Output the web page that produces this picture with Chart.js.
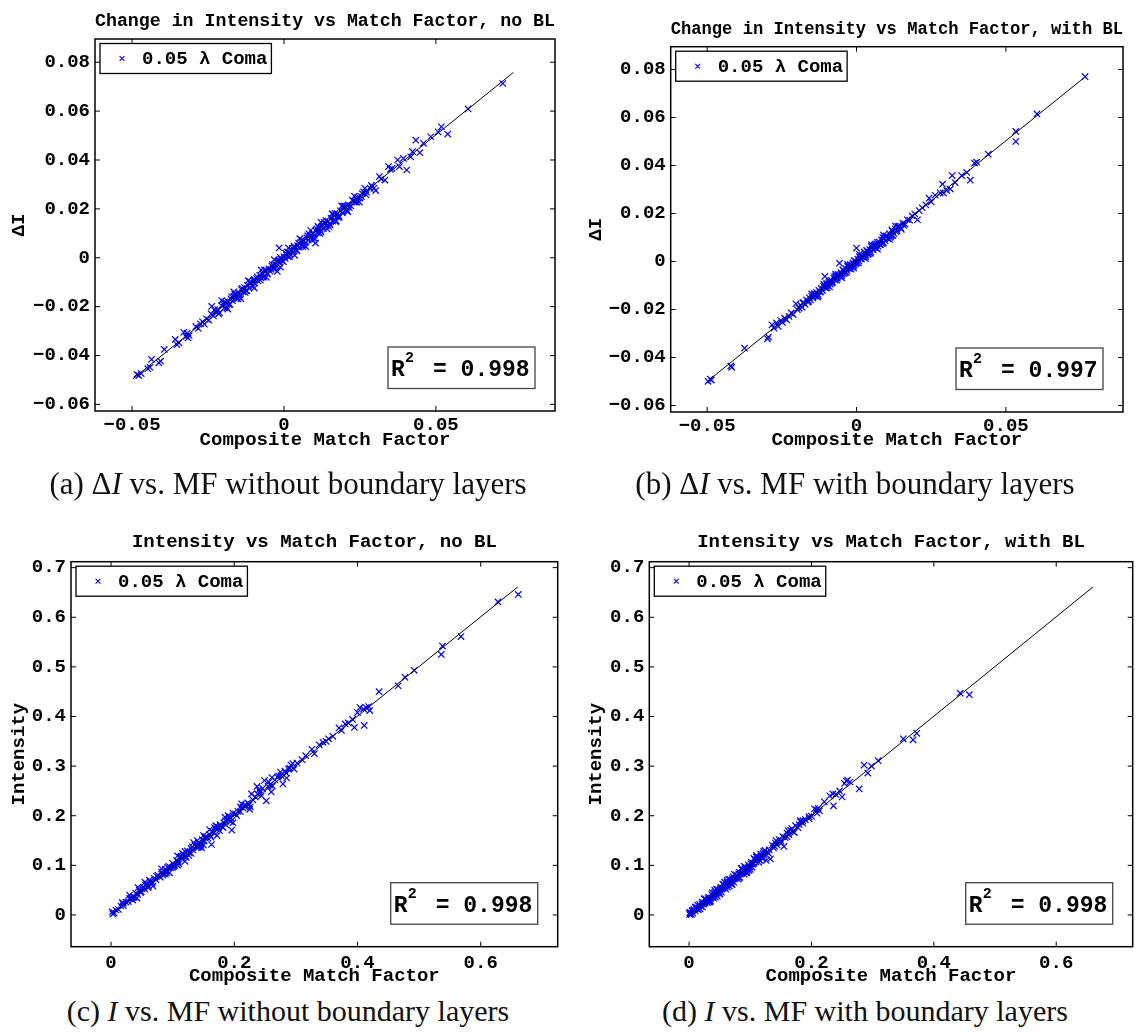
<!DOCTYPE html>
<html>
<head>
<meta charset="utf-8">
<script src="https://cdn.jsdelivr.net/npm/chart.js@4.4.1/dist/chart.umd.min.js"></script>
<style>
  html, body { margin: 0; padding: 0; background: #fff; }
  body { width: 1146px; height: 1034px; position: relative; overflow: hidden; }
  canvas { position: absolute; }
  .cap {
    position: absolute;
    font-family: "Liberation Serif", "Times New Roman", serif;
    font-size: 30px;
    line-height: 30px;
    color: #111;
    white-space: nowrap;
    transform: translateX(-50%);
  }
  .cap.top { font-size: 31px; line-height: 31px; }
</style>
</head>
<body>
<canvas id="panelA" width="573" height="470" style="left:0px;top:0px"></canvas>
<canvas id="panelB" width="573" height="470" style="left:573px;top:0px"></canvas>
<canvas id="panelC" width="573" height="470" style="left:0px;top:520px"></canvas>
<canvas id="panelD" width="573" height="470" style="left:573px;top:520px"></canvas>

<div class="cap top" style="left:288px;top:468px">(a) Δ<i>I</i> vs. MF without boundary layers</div>
<div class="cap top" style="left:855px;top:468px">(b) Δ<i>I</i> vs. MF with boundary layers</div>
<div class="cap" style="left:288px;top:996px">(c) <i>I</i> vs. MF without boundary layers</div>
<div class="cap" style="left:865px;top:996px">(d) <i>I</i> vs. MF with boundary layers</div>

<script>
// ---------- series ----------
const seriesLabel = '0.05 λ Coma';
const xAxisTitle = 'Composite Match Factor';

const titles = [
  'Change in Intensity vs Match Factor, no BL',
  'Change in Intensity vs Match Factor, with BL',
  'Intensity vs Match Factor, no BL',
  'Intensity vs Match Factor, with BL'
];
const yAxisTitles = ['ΔI', 'ΔI', 'Intensity', 'Intensity'];
const rSquared = [0.998, 0.997, 0.998, 0.998];

// tick values and labels
const deltaXTicks = [-0.05, 0, 0.05];
const deltaXLabels = ['−0.05', '0', '0.05'];
const deltaYTicks = [-0.06, -0.04, -0.02, 0, 0.02, 0.04, 0.06, 0.08];
const deltaYLabels = ['−0.06', '−0.04', '−0.02', '0', '0.02', '0.04', '0.06', '0.08'];
const intensityXTicks = [0, 0.2, 0.4, 0.6];
const intensityXLabels = ['0', '0.2', '0.4', '0.6'];
const intensityYTicks = [0, 0.1, 0.2, 0.3, 0.4, 0.5, 0.6, 0.7];
const intensityYLabels = ['0', '0.1', '0.2', '0.3', '0.4', '0.5', '0.6', '0.7'];

// axis limits
const deltaXRange = [-0.0622, 0.0892];
const deltaYRange = [-0.0627, 0.0895];
const intensityXRange = [-0.065, 0.725];
const intensityYRange = [-0.064, 0.712];

// [match factor, change in intensity] without boundary layers
const deltaNoBL = [
  [-0.0484,-0.0477],[-0.0478,-0.0482],[-0.0470,-0.0474],[-0.0448,-0.0454],[-0.0441,-0.0448],
  [-0.0436,-0.0416],[-0.0412,-0.0430],[-0.0406,-0.0423],[-0.0394,-0.0375],[-0.0358,-0.0334],
  [-0.0352,-0.0356],[-0.0346,-0.0348],[-0.0330,-0.0305],[-0.0322,-0.0322],[-0.0319,-0.0308],
  [-0.0316,-0.0328],[-0.0312,-0.0318],[-0.0290,-0.0282],[-0.0282,-0.0289],[-0.0275,-0.0270],
  [-0.0268,-0.0262],[-0.0262,-0.0272],[-0.0255,-0.0250],[-0.0248,-0.0255],[-0.0240,-0.0230],
  [-0.0238,-0.0199],[-0.0232,-0.0238],[-0.0228,-0.0212],[-0.0225,-0.0220],[-0.0218,-0.0212],
  [-0.0215,-0.0230],[-0.0212,-0.0225],[-0.0205,-0.0196],[-0.0205,-0.0175],[-0.0200,-0.0190],
  [-0.0196,-0.0205],[-0.0195,-0.0180],[-0.0190,-0.0186],[-0.0188,-0.0205],[-0.0185,-0.0178],
  [-0.0185,-0.0210],[-0.0180,-0.0192],[-0.0178,-0.0190],[-0.0175,-0.0168],[-0.0172,-0.0160],
  [-0.0170,-0.0176],[-0.0165,-0.0158],[-0.0165,-0.0140],[-0.0162,-0.0148],[-0.0160,-0.0150],
  [-0.0156,-0.0165],[-0.0152,-0.0168],[-0.0150,-0.0145],[-0.0148,-0.0160],[-0.0145,-0.0152],
  [-0.0142,-0.0168],[-0.0140,-0.0130],[-0.0138,-0.0125],[-0.0135,-0.0140],[-0.0130,-0.0122],
  [-0.0128,-0.0142],[-0.0126,-0.0135],[-0.0122,-0.0135],[-0.0120,-0.0112],[-0.0118,-0.0094],
  [-0.0115,-0.0124],[-0.0112,-0.0098],[-0.0110,-0.0103],[-0.0105,-0.0112],[-0.0102,-0.0118],
  [-0.0100,-0.0092],[-0.0098,-0.0088],[-0.0098,-0.0124],[-0.0096,-0.0104],[-0.0090,-0.0085],
  [-0.0088,-0.0078],[-0.0086,-0.0095],[-0.0080,-0.0072],[-0.0078,-0.0092],[-0.0076,-0.0082],
  [-0.0075,-0.0050],[-0.0070,-0.0066],[-0.0068,-0.0080],[-0.0066,-0.0075],[-0.0064,-0.0050],
  [-0.0060,-0.0052],[-0.0058,-0.0080],[-0.0056,-0.0064],[-0.0054,-0.0068],[-0.0050,-0.0045],
  [-0.0046,-0.0055],[-0.0042,-0.0048],[-0.0040,-0.0034],[-0.0038,-0.0028],[-0.0036,-0.0044],
  [-0.0032,-0.0008],[-0.0030,-0.0026],[-0.0028,-0.0042],[-0.0026,-0.0033],[-0.0022,-0.0056],
  [-0.0020,-0.0015],[-0.0018,-0.0010],[-0.0016,0.0040],[-0.0014,-0.0022],[-0.0012,0.0002],
  [-0.0012,-0.0038],[-0.0010,-0.0006],[-0.0006,-0.0012],[-0.0002,-0.0016],[0.0000,0.0004],
  [0.0004,-0.0003],[0.0006,0.0018],[0.0008,0.0012],[0.0010,0.0024],[0.0012,0.0006],
  [0.0015,0.0040],[0.0016,0.0022],[0.0018,0.0004],[0.0020,0.0014],[0.0025,0.0030],
  [0.0028,0.0038],[0.0030,0.0024],[0.0033,0.0048],[0.0035,0.0042],[0.0035,0.0010],
  [0.0040,0.0033],[0.0043,0.0028],[0.0045,0.0050],[0.0048,0.0060],[0.0050,0.0043],
  [0.0052,0.0078],[0.0055,0.0062],[0.0058,0.0072],[0.0060,0.0052],[0.0062,0.0045],
  [0.0065,0.0070],[0.0068,0.0050],[0.0070,0.0062],[0.0072,0.0045],[0.0075,0.0082],
  [0.0078,0.0090],[0.0080,0.0072],[0.0082,0.0098],[0.0085,0.0090],[0.0088,0.0112],
  [0.0090,0.0083],[0.0092,0.0072],[0.0095,0.0100],[0.0098,0.0080],[0.0100,0.0092],
  [0.0102,0.0078],[0.0104,0.0060],[0.0105,0.0110],[0.0108,0.0118],[0.0110,0.0102],
  [0.0112,0.0128],[0.0115,0.0122],[0.0118,0.0100],[0.0120,0.0112],[0.0122,0.0106],
  [0.0122,0.0145],[0.0125,0.0130],[0.0130,0.0120],[0.0132,0.0145],[0.0135,0.0142],
  [0.0138,0.0152],[0.0140,0.0130],[0.0142,0.0118],[0.0145,0.0150],[0.0148,0.0128],
  [0.0150,0.0140],[0.0152,0.0134],[0.0155,0.0162],[0.0158,0.0180],[0.0160,0.0150],
  [0.0162,0.0178],[0.0165,0.0172],[0.0168,0.0182],[0.0170,0.0148],[0.0172,0.0150],
  [0.0175,0.0180],[0.0178,0.0165],[0.0180,0.0172],[0.0182,0.0166],[0.0186,0.0192],
  [0.0190,0.0212],[0.0192,0.0184],[0.0195,0.0210],[0.0198,0.0204],[0.0200,0.0212],
  [0.0205,0.0196],[0.0208,0.0192],[0.0210,0.0188],[0.0212,0.0216],[0.0215,0.0205],
  [0.0220,0.0212],[0.0225,0.0236],[0.0228,0.0232],[0.0232,0.0252],[0.0235,0.0228],
  [0.0238,0.0240],[0.0240,0.0228],[0.0242,0.0246],[0.0248,0.0228],[0.0250,0.0244],
  [0.0255,0.0250],[0.0258,0.0262],[0.0262,0.0270],[0.0266,0.0284],[0.0270,0.0258],
  [0.0272,0.0268],[0.0284,0.0284],[0.0288,0.0296],[0.0291,0.0290],[0.0296,0.0284],
  [0.0302,0.0275],[0.0314,0.0332],[0.0320,0.0322],[0.0332,0.0318],[0.0344,0.0373],
  [0.0350,0.0362],[0.0356,0.0366],[0.0374,0.0400],[0.0380,0.0373],[0.0393,0.0407],
  [0.0404,0.0359],[0.0417,0.0413],[0.0423,0.0434],[0.0434,0.0481],[0.0447,0.0430],
  [0.0459,0.0468],[0.0483,0.0495],[0.0507,0.0515],[0.0518,0.0536],[0.0539,0.0506],
  [0.0606,0.0609],[0.0720,0.0713]
];

// [match factor, change in intensity] with boundary layers
const deltaBL = [
  [-0.0497,-0.0499],[-0.0490,-0.0490],[-0.0486,-0.0494],[-0.0421,-0.0435],[-0.0418,-0.0441],
  [-0.0375,-0.0361],[-0.0298,-0.0322],[-0.0295,-0.0315],[-0.0283,-0.0264],[-0.0276,-0.0278],
  [-0.0268,-0.0256],[-0.0262,-0.0270],[-0.0254,-0.0246],[-0.0248,-0.0254],[-0.0241,-0.0236],
  [-0.0234,-0.0243],[-0.0226,-0.0229],[-0.0219,-0.0214],[-0.0212,-0.0221],[-0.0203,-0.0176],
  [-0.0198,-0.0201],[-0.0192,-0.0195],[-0.0187,-0.0182],[-0.0182,-0.0191],[-0.0180,-0.0172],
  [-0.0177,-0.0171],[-0.0172,-0.0179],[-0.0167,-0.0160],[-0.0163,-0.0169],[-0.0160,-0.0166],
  [-0.0158,-0.0151],[-0.0154,-0.0160],[-0.0150,-0.0145],[-0.0150,-0.0135],[-0.0146,-0.0152],
  [-0.0142,-0.0137],[-0.0140,-0.0134],[-0.0138,-0.0144],[-0.0134,-0.0128],[-0.0130,-0.0136],
  [-0.0130,-0.0148],[-0.0128,-0.0142],[-0.0126,-0.0120],[-0.0122,-0.0128],[-0.0120,-0.0126],
  [-0.0118,-0.0112],[-0.0114,-0.0121],[-0.0110,-0.0104],[-0.0110,-0.0094],[-0.0108,-0.0098],
  [-0.0106,-0.0062],[-0.0104,-0.0110],[-0.0100,-0.0095],[-0.0100,-0.0090],[-0.0098,-0.0110],
  [-0.0096,-0.0102],[-0.0092,-0.0087],[-0.0090,-0.0080],[-0.0090,-0.0106],[-0.0088,-0.0094],
  [-0.0084,-0.0079],[-0.0082,-0.0090],[-0.0080,-0.0086],[-0.0076,-0.0070],[-0.0074,-0.0064],
  [-0.0072,-0.0078],[-0.0070,-0.0060],[-0.0070,-0.0052],[-0.0068,-0.0063],[-0.0066,-0.0078],
  [-0.0064,-0.0070],[-0.0062,-0.0054],[-0.0060,-0.0055],[-0.0057,-0.0007],[-0.0056,-0.0062],
  [-0.0052,-0.0046],[-0.0050,-0.0060],[-0.0050,-0.0068],[-0.0048,-0.0054],[-0.0046,-0.0034],
  [-0.0044,-0.0038],[-0.0042,-0.0050],[-0.0040,-0.0046],[-0.0036,-0.0030],[-0.0034,-0.0046],
  [-0.0032,-0.0038],[-0.0030,-0.0020],[-0.0030,-0.0012],[-0.0028,-0.0022],[-0.0024,-0.0030],
  [-0.0022,-0.0014],[-0.0020,-0.0014],[-0.0018,-0.0032],[-0.0016,-0.0022],[-0.0012,-0.0006],
  [-0.0010,-0.0020],[-0.0010,-0.0028],[-0.0008,0.0004],[-0.0008,-0.0014],[-0.0004,0.0002],
  [-0.0002,-0.0010],[0.0000,-0.0006],[0.0000,0.0056],[0.0004,0.0010],[0.0006,-0.0006],
  [0.0008,0.0002],[0.0010,0.0020],[0.0010,0.0030],[0.0012,0.0018],[0.0016,0.0010],
  [0.0018,0.0026],[0.0020,0.0026],[0.0024,0.0017],[0.0026,0.0040],[0.0028,0.0034],
  [0.0030,0.0020],[0.0030,0.0012],[0.0032,0.0025],[0.0034,0.0046],[0.0036,0.0042],
  [0.0038,0.0030],[0.0040,0.0033],[0.0044,0.0050],[0.0046,0.0034],[0.0048,0.0040],
  [0.0050,0.0062],[0.0050,0.0070],[0.0052,0.0058],[0.0056,0.0048],[0.0058,0.0066],
  [0.0060,0.0066],[0.0062,0.0072],[0.0064,0.0056],[0.0068,0.0074],[0.0070,0.0080],
  [0.0070,0.0052],[0.0072,0.0063],[0.0076,0.0082],[0.0078,0.0070],[0.0080,0.0071],
  [0.0084,0.0090],[0.0086,0.0074],[0.0088,0.0079],[0.0088,0.0100],[0.0090,0.0078],
  [0.0090,0.0110],[0.0092,0.0098],[0.0096,0.0086],[0.0098,0.0106],[0.0100,0.0106],
  [0.0105,0.0095],[0.0110,0.0116],[0.0110,0.0092],[0.0112,0.0100],[0.0115,0.0105],
  [0.0118,0.0110],[0.0118,0.0132],[0.0120,0.0126],[0.0122,0.0108],[0.0125,0.0117],
  [0.0130,0.0136],[0.0130,0.0148],[0.0132,0.0124],[0.0136,0.0128],[0.0138,0.0146],
  [0.0142,0.0148],[0.0148,0.0140],[0.0150,0.0134],[0.0155,0.0160],[0.0158,0.0150],
  [0.0162,0.0156],[0.0170,0.0174],[0.0178,0.0172],[0.0186,0.0190],[0.0195,0.0198],
  [0.0204,0.0174],[0.0210,0.0212],[0.0220,0.0224],[0.0232,0.0236],[0.0243,0.0264],
  [0.0250,0.0248],[0.0263,0.0276],[0.0280,0.0286],[0.0288,0.0322],[0.0291,0.0285],
  [0.0302,0.0296],[0.0314,0.0302],[0.0320,0.0358],[0.0330,0.0329],[0.0352,0.0358],
  [0.0369,0.0371],[0.0381,0.0339],[0.0395,0.0410],[0.0402,0.0414],[0.0441,0.0447],
  [0.0533,0.0542],[0.0533,0.0500],[0.0604,0.0615],[0.0765,0.0770]
];

// [match factor, intensity] without boundary layers
const intensityNoBL = [
  [0.661,0.646],[0.628,0.631],[0.568,0.561],[0.538,0.542],[0.536,0.525],[0.492,0.493],
  [0.477,0.479],[0.466,0.462],[0.435,0.450],[0.420,0.412],[0.418,0.420],[0.414,0.418],
  [0.410,0.415],[0.411,0.382],[0.404,0.418],[0.400,0.408],[0.395,0.378],[0.392,0.394],
  [0.385,0.387],[0.380,0.385],[0.374,0.372],[0.370,0.377],[0.360,0.360],[0.353,0.355],
  [0.349,0.350],[0.344,0.348],[0.338,0.343],[0.330,0.325],[0.326,0.334],[0.316,0.321],
  [0.310,0.313],[0.302,0.306],[0.297,0.294],[0.295,0.305],[0.292,0.302],[0.290,0.296],
  [0.288,0.294],[0.285,0.276],[0.284,0.286],[0.282,0.290],[0.279,0.264],[0.276,0.281],
  [0.275,0.288],[0.272,0.280],[0.270,0.278],[0.266,0.272],[0.262,0.260],[0.261,0.277],
  [0.260,0.248],[0.258,0.262],[0.256,0.268],[0.255,0.259],[0.252,0.230],[0.249,0.271],
  [0.246,0.255],[0.244,0.240],[0.242,0.247],[0.240,0.252],[0.238,0.244],[0.237,0.259],
  [0.234,0.238],[0.230,0.232],[0.228,0.244],[0.226,0.218],[0.225,0.213],[0.224,0.222],
  [0.222,0.226],[0.218,0.222],[0.216,0.220],[0.214,0.216],[0.212,0.224],[0.210,0.218],
  [0.210,0.208],[0.206,0.209],[0.204,0.200],[0.202,0.204],[0.198,0.205],[0.198,0.186],
  [0.196,0.171],[0.194,0.196],[0.194,0.188],[0.192,0.198],[0.190,0.193],[0.190,0.200],
  [0.186,0.190],[0.186,0.182],[0.185,0.197],[0.183,0.186],[0.182,0.176],[0.180,0.178],
  [0.177,0.182],[0.176,0.170],[0.174,0.176],[0.172,0.178],[0.172,0.160],[0.170,0.174],
  [0.170,0.180],[0.168,0.176],[0.167,0.165],[0.164,0.168],[0.163,0.142],[0.162,0.157],
  [0.160,0.162],[0.160,0.172],[0.157,0.155],[0.154,0.158],[0.152,0.156],[0.151,0.149],
  [0.150,0.160],[0.150,0.141],[0.148,0.152],[0.147,0.135],[0.146,0.140],[0.145,0.143],
  [0.143,0.137],[0.142,0.146],[0.141,0.136],[0.140,0.150],[0.139,0.137],[0.136,0.141],
  [0.134,0.146],[0.133,0.131],[0.132,0.137],[0.130,0.134],[0.130,0.124],[0.127,0.125],
  [0.126,0.120],[0.124,0.129],[0.122,0.116],[0.121,0.118],[0.120,0.128],[0.120,0.108],
  [0.118,0.122],[0.116,0.124],[0.115,0.113],[0.114,0.118],[0.112,0.117],[0.110,0.103],
  [0.109,0.107],[0.108,0.100],[0.108,0.119],[0.106,0.110],[0.103,0.100],[0.102,0.098],
  [0.100,0.104],[0.100,0.096],[0.097,0.095],[0.095,0.085],[0.094,0.098],[0.092,0.096],
  [0.091,0.089],[0.090,0.085],[0.088,0.092],[0.088,0.082],[0.085,0.083],[0.084,0.080],
  [0.082,0.086],[0.082,0.093],[0.080,0.076],[0.079,0.077],[0.076,0.080],[0.074,0.078],
  [0.073,0.071],[0.070,0.074],[0.068,0.058],[0.067,0.065],[0.066,0.062],[0.064,0.068],
  [0.062,0.070],[0.061,0.058],[0.060,0.055],[0.058,0.062],[0.056,0.060],[0.055,0.052],
  [0.055,0.066],[0.052,0.056],[0.050,0.053],[0.049,0.047],[0.048,0.045],[0.046,0.050],
  [0.044,0.055],[0.043,0.041],[0.042,0.034],[0.040,0.044],[0.038,0.036],[0.036,0.035],
  [0.035,0.030],[0.032,0.034],[0.030,0.033],[0.030,0.040],[0.028,0.027],[0.024,0.026],
  [0.020,0.019],[0.020,0.024],[0.018,0.025],[0.016,0.018],[0.012,0.011],[0.008,0.010],
  [0.005,0.004],[0.003,0.002],[0.002,0.006]
];

// [match factor, intensity] with boundary layers
const intensityBL = [
  [0.458,0.444],[0.443,0.447],[0.372,0.366],[0.366,0.353],[0.350,0.355],[0.309,0.311],
  [0.298,0.300],[0.292,0.286],[0.286,0.302],[0.278,0.254],[0.263,0.268],[0.259,0.272],
  [0.257,0.270],[0.254,0.265],[0.250,0.238],[0.246,0.250],[0.240,0.243],[0.236,0.220],
  [0.235,0.244],[0.230,0.240],[0.221,0.228],[0.213,0.210],[0.211,0.215],[0.209,0.205],
  [0.208,0.212],[0.205,0.214],[0.200,0.199],[0.196,0.198],[0.196,0.194],[0.190,0.192],
  [0.186,0.185],[0.186,0.190],[0.182,0.188],[0.182,0.190],[0.180,0.182],[0.178,0.176],
  [0.174,0.180],[0.172,0.166],[0.170,0.168],[0.168,0.174],[0.166,0.171],[0.163,0.162],
  [0.162,0.170],[0.160,0.165],[0.160,0.158],[0.157,0.156],[0.155,0.138],[0.153,0.158],
  [0.150,0.149],[0.150,0.144],[0.147,0.152],[0.144,0.141],[0.142,0.150],[0.141,0.145],
  [0.140,0.138],[0.138,0.135],[0.136,0.141],[0.133,0.113],[0.131,0.131],[0.130,0.124],
  [0.128,0.126],[0.126,0.110],[0.124,0.130],[0.122,0.121],[0.122,0.128],[0.121,0.124],
  [0.120,0.113],[0.119,0.117],[0.117,0.123],[0.116,0.110],[0.114,0.112],[0.114,0.106],
  [0.112,0.116],[0.111,0.113],[0.110,0.120],[0.110,0.117],[0.109,0.107],[0.107,0.112],
  [0.106,0.104],[0.106,0.114],[0.104,0.102],[0.103,0.096],[0.102,0.106],[0.101,0.103],
  [0.100,0.092],[0.099,0.097],[0.098,0.090],[0.097,0.101],[0.096,0.094],[0.095,0.088],
  [0.094,0.092],[0.094,0.085],[0.093,0.086],[0.092,0.097],[0.091,0.093],[0.090,0.082],
  [0.090,0.098],[0.089,0.087],[0.087,0.091],[0.086,0.084],[0.086,0.094],[0.085,0.094],
  [0.084,0.082],[0.083,0.076],[0.082,0.086],[0.082,0.074],[0.081,0.083],[0.080,0.072],
  [0.079,0.077],[0.077,0.081],[0.076,0.074],[0.074,0.072],[0.074,0.082],[0.073,0.066],
  [0.072,0.077],[0.071,0.073],[0.070,0.062],[0.070,0.061],[0.069,0.067],[0.067,0.071],
  [0.066,0.064],[0.066,0.058],[0.065,0.072],[0.064,0.062],[0.063,0.056],[0.062,0.066],
  [0.062,0.070],[0.061,0.063],[0.060,0.052],[0.059,0.057],[0.058,0.066],[0.057,0.061],
  [0.056,0.054],[0.055,0.062],[0.054,0.052],[0.053,0.046],[0.052,0.056],[0.051,0.053],
  [0.050,0.043],[0.050,0.042],[0.049,0.047],[0.047,0.051],[0.046,0.044],[0.046,0.038],
  [0.045,0.052],[0.044,0.042],[0.043,0.036],[0.042,0.046],[0.042,0.050],[0.041,0.043],
  [0.040,0.034],[0.039,0.037],[0.038,0.045],[0.037,0.041],[0.036,0.034],[0.035,0.028],
  [0.034,0.032],[0.034,0.027],[0.033,0.026],[0.032,0.036],[0.031,0.033],[0.030,0.025],
  [0.029,0.027],[0.027,0.031],[0.026,0.024],[0.026,0.033],[0.025,0.032],[0.024,0.022],
  [0.022,0.026],[0.022,0.016],[0.021,0.023],[0.019,0.017],[0.018,0.012],[0.017,0.021],
  [0.016,0.014],[0.015,0.010],[0.014,0.012],[0.014,0.020],[0.012,0.016],[0.011,0.013],
  [0.010,0.008],[0.010,0.016],[0.008,0.011],[0.006,0.004],[0.006,0.010],[0.005,0.008],
  [0.004,0.001],[0.003,0.002],[0.002,0.005],[0.001,0.001],[0.001,0.004]
];

// least-squares fit lines, [x, y] at both ends
const fitDeltaNoBL = [[-0.0497, -0.0495], [0.0755, 0.0758]];
const fitDeltaBL = [[-0.0495, -0.0495], [0.0758, 0.0762]];
const fitIntensityNoBL = [[0.003, 0.003], [0.660, 0.661]];
const fitIntensityBL = [[0.002, 0.002], [0.660, 0.661]];

// ---------- drawing ----------
const MONO = '"Liberation Mono", "Courier New", monospace';
const axisFont = { family: MONO, size: 19, weight: 'bold', lineHeight: 1.2 };

const panelDefs = [
  { id: 'panelA', points: deltaNoBL, fit: fitDeltaNoBL,
    xr: deltaXRange, yr: deltaYRange, xt: deltaXTicks, xl: deltaXLabels, yt: deltaYTicks, yl: deltaYLabels,
    box: { yW: 95, xH: 59, padR: 18, tT: 9.6, tB: 6.6, yTitlePad: 7.6, xTitlePad: 17.9, xTickPad: 3 } },
  { id: 'panelB', points: deltaBL, fit: fitDeltaBL,
    xr: deltaXRange, yr: deltaYRange, xt: deltaXTicks, xl: deltaXLabels, yt: deltaYTicks, yl: deltaYLabels,
    box: { yW: 97.7, xH: 58, padR: 23, tT: 17.6, tB: 6.3, yTitlePad: 11.4, xTitlePad: 17.9, xTickPad: 3 } },
  { id: 'panelC', points: intensityNoBL, fit: fitIntensityNoBL,
    xr: intensityXRange, yr: intensityYRange, xt: intensityXTicks, xl: intensityXLabels, yt: intensityYTicks, yl: intensityYLabels,
    box: { yW: 71, xH: 43.3, padR: 15.3, tT: 11.3, tB: 7.6, yTitlePad: 7.8, xTitlePad: 1.9, xTickPad: 5 } },
  { id: 'panelD', points: intensityBL, fit: fitIntensityBL,
    xr: intensityXRange, yr: intensityYRange, xt: intensityXTicks, xl: intensityXLabels, yt: intensityYTicks, yl: intensityYLabels,
    box: { yW: 76.3, xH: 43.3, padR: 13.3, tT: 11.3, tB: 7.6, yTitlePad: 12.3, xTitlePad: 1.9, xTickPad: 5 } }
];

// axes box, inward ticks on all sides, legend and R² annotation
const framePlugin = {
  id: 'frame',
  afterDatasetsDraw(chart, args, opts) {
    const { ctx, chartArea: a, scales: { x, y } } = chart;
    ctx.save();

    ctx.strokeStyle = '#000';
    ctx.lineWidth = 1;
    ctx.beginPath();
    x.ticks.forEach(t => {
      const px = x.getPixelForValue(t.value);
      ctx.moveTo(px, a.bottom); ctx.lineTo(px, a.bottom - 5);
      ctx.moveTo(px, a.top); ctx.lineTo(px, a.top + 5);
    });
    y.ticks.forEach(t => {
      const py = y.getPixelForValue(t.value);
      ctx.moveTo(a.left, py); ctx.lineTo(a.left + 5, py);
      ctx.moveTo(a.right, py); ctx.lineTo(a.right - 5, py);
    });
    ctx.stroke();

    ctx.lineWidth = 1.5;
    ctx.strokeRect(a.left, a.top, a.right - a.left, a.bottom - a.top);

    // legend
    const label = chart.data.datasets[1].label;
    ctx.font = `bold ${axisFont.size}px ${MONO}`;
    const tw = ctx.measureText(label).width;
    const lx = a.left + 5, ly = a.top + 4.5, lw = tw + 46, lh = 30;
    ctx.fillStyle = '#fff';
    ctx.fillRect(lx, ly, lw, lh);
    ctx.lineWidth = 1.3;
    ctx.strokeStyle = '#000';
    ctx.strokeRect(lx, ly, lw, lh);
    const mx = lx + 22, my = ly + 15, mr = 2.4;
    ctx.strokeStyle = '#0000ff';
    ctx.lineWidth = 1.1;
    ctx.beginPath();
    ctx.moveTo(mx - mr, my - mr); ctx.lineTo(mx + mr, my + mr);
    ctx.moveTo(mx - mr, my + mr); ctx.lineTo(mx + mr, my - mr);
    ctx.stroke();
    ctx.fillStyle = '#000';
    ctx.textBaseline = 'middle';
    ctx.textAlign = 'left';
    ctx.fillText(label, lx + 42, ly + 16);

    // R² box
    const bw = 147, bh = 41.5;
    const bx = a.right - 20 - bw, by = a.bottom - 22.5 - bh;
    ctx.fillStyle = '#fff';
    ctx.fillRect(bx, by, bw, bh);
    ctx.strokeStyle = '#444';
    ctx.lineWidth = 1.3;
    ctx.strokeRect(bx, by, bw, bh);
    const base = by + bh - 12.5;
    ctx.fillStyle = '#000';
    ctx.textBaseline = 'alphabetic';
    ctx.font = `bold 23px ${MONO}`;
    ctx.fillText('R', bx + 3, base);
    ctx.fillText('= ' + opts.r2.toFixed(3), bx + 45, base);
    ctx.font = `bold 15px ${MONO}`;
    ctx.fillText('2', bx + 17, base - 14);

    ctx.restore();
  }
};

panelDefs.forEach((p, i) => {
  const b = p.box;
  new Chart(document.getElementById(p.id), {
    type: 'scatter',
    data: {
      datasets: [
        {
          label: 'fit',
          data: p.fit.map(([x, y]) => ({ x, y })),
          showLine: true,
          borderColor: '#000',
          borderWidth: 1,
          pointRadius: 0,
          order: 0
        },
        {
          label: seriesLabel,
          data: p.points.map(([x, y]) => ({ x, y })),
          pointStyle: 'crossRot',
          pointRadius: 4.5,
          pointBorderWidth: 1.2,
          borderColor: '#0000ff',
          backgroundColor: '#0000ff',
          order: 1
        }
      ]
    },
    options: {
      responsive: false,
      animation: false,
      devicePixelRatio: 1,
      events: [],
      layout: { padding: { left: 0, top: 0, right: b.padR, bottom: 0 } },
      plugins: {
        legend: { display: false },
        tooltip: { enabled: false },
        title: {
          display: true,
          text: titles[i],
          fullSize: false,
          color: '#000',
          font: axisFont,
          padding: { top: b.tT, bottom: b.tB }
        },
        frame: { r2: rSquared[i] }
      },
      scales: {
        x: {
          type: 'linear',
          position: 'bottom',
          min: p.xr[0],
          max: p.xr[1],
          grid: { display: false, drawTicks: false },
          border: { display: false },
          afterBuildTicks: s => { s.ticks = p.xt.map(v => ({ value: v })); },
          afterFit: s => { s.height = b.xH; },
          ticks: {
            autoSkip: false,
            maxRotation: 0,
            padding: b.xTickPad,
            color: '#000',
            font: axisFont,
            callback: (v, idx) => p.xl[idx]
          },
          title: {
            display: true,
            text: xAxisTitle,
            color: '#000',
            font: axisFont,
            padding: { top: 0, bottom: b.xTitlePad }
          }
        },
        y: {
          type: 'linear',
          position: 'left',
          min: p.yr[0],
          max: p.yr[1],
          grid: { display: false, drawTicks: false },
          border: { display: false },
          afterBuildTicks: s => { s.ticks = p.yt.map(v => ({ value: v })); },
          afterFit: s => { s.width = b.yW; },
          ticks: {
            autoSkip: false,
            padding: 5,
            color: '#000',
            font: axisFont,
            callback: (v, idx) => p.yl[idx]
          },
          title: {
            display: true,
            text: yAxisTitles[i],
            color: '#000',
            font: axisFont,
            padding: { top: b.yTitlePad, bottom: 0 }
          }
        }
      }
    },
    plugins: [framePlugin]
  });
});
</script>
</body>
</html>
